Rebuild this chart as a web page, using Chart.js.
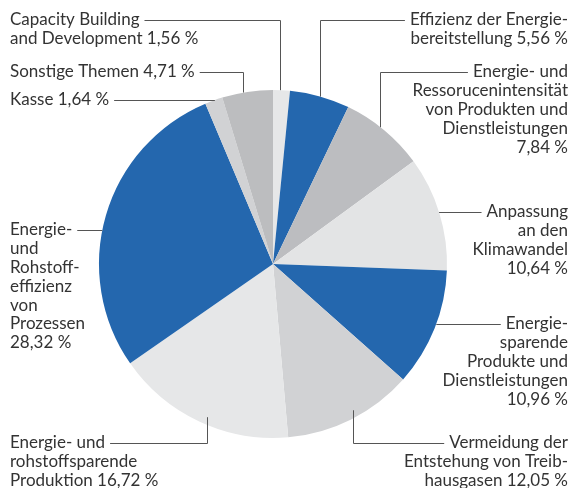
<!DOCTYPE html>
<html>
<head>
<meta charset="utf-8">
<script src="https://cdn.jsdelivr.net/npm/chart.js@4"></script>
<style>
  body { margin: 0; background: #fff; }
  #wrap { width: 578px; height: 488px; position: relative; }
</style>
</head>
<body>
<div id="wrap"><canvas id="c"></canvas></div>
<script>
// slices, clockwise from 12 o'clock
const categories = [
  "Capacity Building|and Development",
  "Effizienz der Energie-|bereitstellung",
  "Energie- und|Ressorucenintensität|von Produkten und|Dienstleistungen|",
  "Anpassung|an den|Klimawandel|",
  "Energie-|sparende|Produkte und|Dienstleistungen|",
  "Vermeidung der|Entstehung von Treib-|hausgasen",
  "Energie- und|rohstoffsparende|Produktion",
  "Energie-|und|Rohstoff-|effizienz|von|Prozessen|",
  "Kasse",
  "Sonstige Themen"
];
const shares = [1.56, 5.56, 7.84, 10.64, 10.96, 12.05, 16.72, 28.32, 1.64, 4.71];
const colors = ["#e6e7e8", "#2467ae", "#bcbdc0", "#e3e4e5", "#2467ae",
                "#d1d2d4", "#e6e7e8", "#2467ae", "#d1d2d4", "#bcbdbf"];

// label placement: side, text anchor x, first line y, leader type and bend
const labelPos = [
  { side: "left",  x: 10,  y: 20,  bend: 280, dir: "v" },
  { side: "right", x: 568, y: 20,  bend: 320, dir: "v" },
  { side: "right", x: 568, y: 72,  bend: 380, dir: "v" },
  { side: "right", x: 568, y: 212, dir: "h" },
  { side: "right", x: 568, y: 324, dir: "h" },
  { side: "right", x: 568, y: 443, bend: 353, dir: "vb" },
  { side: "left",  x: 10,  y: 443, bend: 207, dir: "vb" },
  { side: "left",  x: 10,  y: 230, dir: "h" },
  { side: "left",  x: 10,  y: 100, dir: "h" },
  { side: "left",  x: 10,  y: 72,  bend: 243, dir: "v" }
];

const fmt = v => v.toFixed(2).replace(".", ",") + " %";

const labelPlugin = {
  id: "labels",
  afterDraw(chart) {
    const ctx = chart.ctx;
    const arc = chart.getDatasetMeta(0).data[0];
    const cx = arc.x, cy = arc.y, r = arc.outerRadius;
    const lh = 18.8;
    ctx.save();
    ctx.font = "17px Lato";
    ctx.textBaseline = "middle";
    ctx.fillStyle = "#333";
    ctx.strokeStyle = "#555";
    ctx.lineWidth = 1;
    categories.forEach((name, i) => {
      const p = labelPos[i];
      const parts = name.split("|");
      const last = parts.length - 1;
      parts[last] = (parts[last] ? parts[last] + " " : "") + fmt(shares[i]);
      ctx.textAlign = p.side === "left" ? "left" : "right";
      parts.forEach((t, k) => ctx.fillText(t, p.x, p.y + k * lh));
      const w = ctx.measureText(parts[0]).width;
      const x0 = p.side === "left" ? p.x + w + 5 : p.x - w - 5;
      const y0 = Math.round(p.y) + 0.5;
      ctx.beginPath();
      ctx.moveTo(x0, y0);
      if (p.dir === "h") {
        const dx = Math.sqrt(Math.max(0, r * r - (p.y - cy) * (p.y - cy)));
        ctx.lineTo(p.side === "left" ? cx - dx : cx + dx, y0);
      } else {
        const bx = Math.round(p.bend) + 0.5;
        const dy = Math.sqrt(Math.max(0, r * r - (bx - cx) * (bx - cx)));
        ctx.lineTo(bx, y0);
        ctx.lineTo(bx, p.dir === "v" ? cy - dy : cy + dy - 8);
      }
      ctx.stroke();
    });
    ctx.restore();
  }
};

new Chart(document.getElementById("c"), {
  type: "pie",
  data: {
    labels: categories.map(c => c.replace(/\|/g, " ").trim()),
    datasets: [{
      data: shares,
      backgroundColor: colors,
      borderWidth: 0
    }]
  },
  options: {
    responsive: true,
    maintainAspectRatio: false,
    animation: false,
    layout: { padding: { left: 99, right: 131, top: 90, bottom: 50 } },
    plugins: {
      legend: { display: false },
      tooltip: { enabled: false }
    }
  },
  plugins: [labelPlugin]
});
</script>
</body>
</html>
